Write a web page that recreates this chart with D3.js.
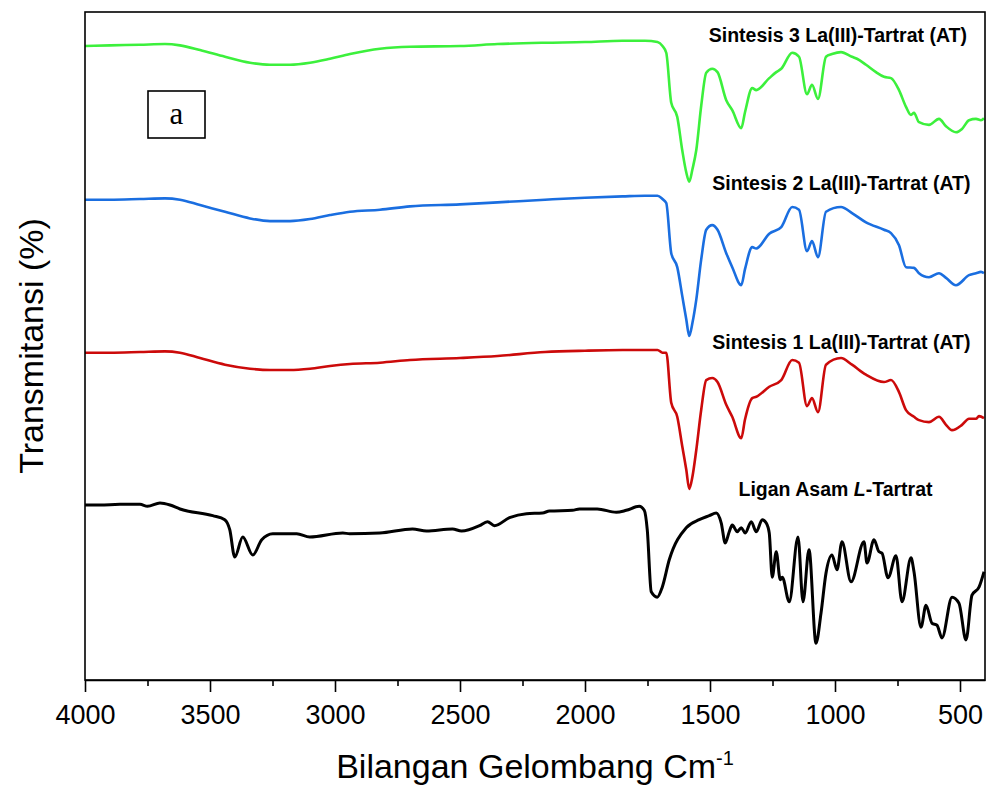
<!DOCTYPE html>
<html>
<head>
<meta charset="utf-8">
<script src="https://cdn.jsdelivr.net/npm/d3@7"></script>
<style>
  body { margin: 0; background: #fff; }
  svg { display: block; }
</style>
</head>
<body>
<script>
// wavenumber (cm-1) vs transmittance, spectra offset for stacking
const sintesis3 = [
  [4000, 94.9], [3900, 95.0], [3780, 95.1], [3680, 95.2], [3620, 95.0], [3540, 94.3],
  [3440, 93.3], [3340, 92.4], [3260, 92.1], [3180, 92.1], [3100, 92.4], [3020, 93.0],
  [2940, 93.7], [2820, 94.5], [2700, 94.8], [2500, 94.9], [2350, 95.2], [2160, 95.4],
  [2000, 95.5], [1850, 95.7], [1760, 95.7], [1710, 95.5], [1690, 94.9], [1675, 93.9],
  [1655, 86.4], [1631, 84.3], [1611, 79.3], [1595, 76.0], [1583, 74.6], [1570, 76.5],
  [1555, 79.3], [1535, 86.0], [1515, 90.9], [1491, 91.5], [1470, 91.0], [1435, 86.8],
  [1411, 85.3], [1375, 82.6], [1360, 85.0], [1331, 88.6], [1315, 88.3], [1263, 90.1],
  [1235, 91.0], [1215, 91.5], [1171, 93.9], [1144, 93.3], [1112, 87.7], [1092, 89.1],
  [1068, 87.0], [1036, 93.3], [1012, 93.7], [976, 94.0], [932, 93.3], [912, 93.0],
  [876, 92.1], [836, 91.0], [804, 90.3], [776, 90.1], [744, 88.3], [716, 85.8],
  [696, 84.6], [684, 84.9], [664, 83.5], [624, 83.1], [584, 84.0], [556, 82.9],
  [516, 82.0], [492, 82.5], [464, 83.8], [436, 84.0], [416, 83.8], [404, 84.1]
];

const sintesis2 = [
  [4000, 71.9], [3900, 71.9], [3780, 72.0], [3680, 72.1], [3620, 71.9], [3540, 71.1],
  [3440, 70.1], [3340, 69.1], [3260, 68.7], [3180, 68.7], [3100, 69.0], [3020, 69.6],
  [2940, 70.1], [2820, 70.4], [2700, 70.9], [2500, 71.2], [2350, 71.5], [2160, 71.9],
  [2000, 72.2], [1850, 72.4], [1760, 72.5], [1710, 72.5], [1690, 72.0], [1675, 71.4],
  [1655, 63.9], [1631, 61.8], [1611, 57.5], [1595, 54.0], [1583, 51.5], [1570, 53.5],
  [1555, 56.9], [1535, 63.0], [1515, 67.4], [1491, 68.1], [1470, 67.4], [1435, 63.9],
  [1411, 61.8], [1375, 59.1], [1360, 61.5], [1331, 64.8], [1315, 64.6], [1263, 66.8],
  [1215, 67.8], [1171, 70.8], [1144, 70.4], [1112, 64.2], [1092, 65.7], [1068, 63.3],
  [1036, 70.1], [976, 70.8], [932, 69.9], [876, 68.5], [804, 67.4], [776, 66.9],
  [744, 65.1], [716, 61.8], [684, 61.7], [664, 60.9], [624, 60.3], [584, 60.9],
  [556, 60.2], [516, 59.1], [464, 60.6], [436, 60.9], [416, 61.1], [404, 60.9]
];

const sintesis1 = [
  [4000, 49.0], [3900, 49.0], [3780, 49.1], [3680, 49.2], [3620, 49.0], [3540, 48.2],
  [3440, 47.2], [3340, 46.6], [3260, 46.4], [3180, 46.4], [3100, 46.6], [3020, 47.0],
  [2940, 47.3], [2820, 47.5], [2700, 47.9], [2500, 48.2], [2350, 48.5], [2160, 49.1],
  [2000, 49.3], [1850, 49.4], [1760, 49.4], [1710, 49.4], [1690, 49.0], [1675, 49.0],
  [1655, 41.5], [1631, 39.4], [1611, 35.0], [1595, 31.5], [1583, 28.6], [1570, 30.5],
  [1555, 34.4], [1535, 40.5], [1515, 44.9], [1491, 45.2], [1470, 44.6], [1435, 41.2],
  [1411, 39.4], [1375, 36.2], [1360, 39.0], [1331, 42.2], [1315, 42.4], [1263, 43.9],
  [1215, 44.9], [1171, 47.9], [1144, 47.5], [1112, 41.0], [1092, 42.2], [1068, 40.1],
  [1036, 47.2], [976, 48.2], [932, 47.2], [876, 45.7], [804, 44.6], [776, 44.9],
  [744, 43.1], [716, 40.4], [684, 39.4], [664, 38.9], [624, 38.6], [584, 39.4],
  [556, 38.2], [532, 37.4], [492, 38.2], [464, 39.1], [436, 39.1], [424, 39.5], [404, 39.2]
];

const ligan = [
  [4000, 26.2], [3940, 26.2], [3860, 26.3], [3780, 26.3], [3750, 26.0], [3700, 26.5],
  [3660, 26.2], [3620, 25.6], [3489, 24.6], [3441, 24.0], [3421, 22.5], [3401, 18.4],
  [3369, 21.4], [3329, 18.7], [3293, 21.0], [3249, 21.9], [3153, 21.9], [3101, 21.4],
  [2969, 22.0], [2941, 21.9], [2821, 22.0], [2690, 22.6], [2634, 22.3], [2530, 22.6],
  [2494, 22.3], [2422, 23.1], [2390, 23.7], [2362, 23.1], [2302, 24.3], [2234, 24.9],
  [2170, 25.0], [2142, 25.3], [2050, 25.4], [2022, 25.6], [1951, 25.6], [1875, 25.1],
  [1835, 25.4], [1783, 26.0], [1763, 25.4], [1751, 22.5], [1735, 13.2], [1711, 12.4],
  [1691, 13.9], [1663, 18.0], [1595, 22.8], [1543, 24.0], [1503, 24.6], [1475, 25.0],
  [1455, 23.5], [1439, 20.5], [1423, 22.2], [1411, 23.2], [1391, 22.2], [1375, 22.8],
  [1359, 22.0], [1335, 23.7], [1315, 22.2], [1291, 24.0], [1275, 23.5], [1263, 22.0],
  [1251, 15.4], [1235, 19.2], [1219, 15.0], [1211, 15.4], [1183, 11.7], [1148, 21.4],
  [1128, 11.7], [1104, 19.5], [1076, 5.5], [1056, 10.0], [1036, 16.0], [1012, 18.7],
  [992, 16.5], [972, 20.7], [936, 14.7], [884, 20.7], [872, 17.5], [844, 21.0],
  [824, 19.2], [812, 19.0], [788, 15.3], [756, 18.6], [732, 11.7], [696, 18.3],
  [684, 16.2], [656, 7.9], [636, 11.2], [612, 8.5], [592, 8.2], [572, 6.3],
  [532, 12.4], [504, 11.5], [476, 6.0], [452, 12.7], [424, 13.9], [404, 16.2]
];

const seriesNames = [
  'Sintesis 3 La(III)-Tartrat (AT)',
  'Sintesis 2 La(III)-Tartrat (AT)',
  'Sintesis 1 La(III)-Tartrat (AT)',
  'Ligan Asam L-Tartrat'
];
const seriesColors = ['#3cf03c', '#1a6ee0', '#cc0a0a', '#000000'];
// label anchors (right end) in data units: [wavenumber, T]
const labelAt = [[472, 95.5], [458, 73.4], [458, 49.6], [610, 27.5]];
const majorTicks = [4000, 3500, 3000, 2500, 2000, 1500, 1000, 500];
const minorTicks = [3750, 3250, 2750, 2250, 1750, 1250, 750];

const width = 989;
const height = 789;
const margin = { left: 85, right: 4, top: 12, bottom: 109 };

const svg = d3.select('body').append('svg')
  .attr('width', width)
  .attr('height', height);

const x = d3.scaleLinear()
  .domain([4000, 400])
  .range([margin.left, width - margin.right]);

const y = d3.scaleLinear()
  .domain([0, 100])
  .range([height - margin.bottom, margin.top]);

const line = d3.line()
  .x(d => x(d[0]))
  .y(d => y(d[1]))
  .curve(d3.curveMonotoneX);

const allSeries = [sintesis3, sintesis2, sintesis1, ligan];

svg.selectAll('path.spec')
  .data(allSeries)
  .enter()
  .append('path')
  .attr('class', 'spec')
  .attr('d', line)
  .attr('fill', 'none')
  .attr('stroke', (d, i) => seriesColors[i])
  .attr('stroke-width', (d, i) => i === 3 ? 3 : 2.6)
  .attr('stroke-linejoin', 'round');

// frame
svg.append('rect')
  .attr('x', x(4000))
  .attr('y', y(100))
  .attr('width', x(400) - x(4000))
  .attr('height', y(0) - y(100))
  .attr('fill', 'none')
  .attr('stroke', '#000')
  .attr('stroke-width', 1.6);

// bottom axis, major + minor ticks
const axisMajor = svg.append('g')
  .attr('transform', `translate(0,${y(0)})`)
  .call(d3.axisBottom(x).tickValues(majorTicks).tickSize(12).tickSizeOuter(0).tickFormat(d3.format('d')));
axisMajor.select('.domain').attr('stroke-width', 1.6);
axisMajor.selectAll('.tick line').attr('stroke-width', 1.6);
axisMajor.selectAll('.tick text')
  .attr('y', 0)
  .attr('dy', 44)
  .style('font-family', 'Arial, "Liberation Sans", sans-serif')
  .style('font-size', '27px')
  .attr('fill', '#000');

const axisMinor = svg.append('g')
  .attr('transform', `translate(0,${y(0)})`)
  .call(d3.axisBottom(x).tickValues(minorTicks).tickSize(6).tickSizeOuter(0).tickFormat(''));
axisMinor.select('.domain').remove();
axisMinor.selectAll('.tick line').attr('stroke-width', 1.6);

// series labels
const lbl = svg.selectAll('text.lbl')
  .data(seriesNames)
  .enter()
  .append('text')
  .attr('class', 'lbl')
  .attr('x', (d, i) => x(labelAt[i][0]))
  .attr('y', (d, i) => y(labelAt[i][1]))
  .attr('text-anchor', 'end')
  .style('font-family', 'Arial, "Liberation Sans", sans-serif')
  .style('font-weight', 'bold')
  .style('font-size', '19.5px')
  .attr('fill', '#000');

lbl.filter((d, i) => i < 3).text(d => d);
lbl.filter((d, i) => i === 3).each(function () {
  const t = d3.select(this);
  t.append('tspan').text('Ligan Asam ');
  t.append('tspan').style('font-style', 'italic').text('L');
  t.append('tspan').text('-Tartrat');
});

// panel marker "a"
svg.append('rect')
  .attr('x', 148).attr('y', 91).attr('width', 57).attr('height', 47)
  .attr('fill', '#fff').attr('stroke', '#000').attr('stroke-width', 1.6);
svg.append('text')
  .attr('x', 176.5).attr('y', 124)
  .attr('text-anchor', 'middle')
  .style('font-family', '"Times New Roman", "Liberation Serif", serif')
  .style('font-size', '31px')
  .text('a');

// axis titles
const xt = svg.append('text')
  .attr('x', (x(4000) + x(400)) / 2)
  .attr('y', 778)
  .attr('text-anchor', 'middle')
  .style('font-family', 'Arial, "Liberation Sans", sans-serif')
  .style('font-size', '34px');
xt.append('tspan').text('Bilangan Gelombang Cm');
xt.append('tspan').attr('dy', -13).style('font-size', '20px').text('-1');

svg.append('text')
  .attr('transform', `translate(43,${(y(0) + y(100)) / 2}) rotate(-90)`)
  .attr('text-anchor', 'middle')
  .style('font-family', 'Arial, "Liberation Sans", sans-serif')
  .style('font-size', '34px')
  .text('Transmitansi (%)');
</script>
</body>
</html>
